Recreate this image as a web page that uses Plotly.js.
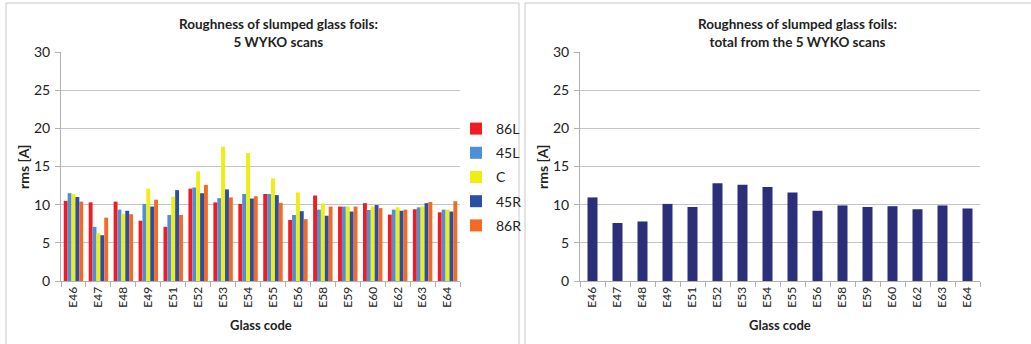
<!DOCTYPE html>
<html>
<head>
<meta charset="utf-8">
<script src="https://cdn.plot.ly/plotly-3.0.1.min.js"></script>
<style>
html,body{margin:0;padding:0;background:#fff;}
#chart{width:1031px;height:344px;}
</style>
</head>
<body>
<div id="chart"></div>
<script>
const codes = ["E46","E47","E48","E49","E51","E52","E53","E54","E55","E56","E58","E59","E60","E62","E63","E64"];
const s86L = [10.5, 10.3, 10.4, 7.9, 7.1, 12.1, 10.3, 10.1, 11.4, 8.0, 11.2, 9.75, 10.2, 8.7, 9.4, 9.0];
const s45L = [11.5, 7.1, 9.35, 10.1, 8.65, 12.25, 10.85, 11.4, 11.4, 8.65, 9.35, 9.75, 9.3, 9.35, 9.65, 9.35];
const sC   = [11.4, 6.25, 8.8, 12.1, 11.05, 14.35, 17.6, 16.75, 13.45, 11.6, 10.15, 9.75, 9.75, 9.65, 9.75, 9.35];
const s45R = [11.0, 6.0, 9.2, 9.75, 11.9, 11.5, 12.0, 10.8, 11.25, 9.15, 8.55, 9.1, 9.95, 9.2, 10.2, 9.1];
const s86R = [10.4, 8.3, 8.75, 10.65, 8.65, 12.6, 10.95, 11.1, 10.25, 8.1, 9.75, 9.75, 9.55, 9.35, 10.35, 10.45];
const total = [10.95, 7.6, 7.8, 10.1, 9.7, 12.8, 12.6, 12.3, 11.6, 9.2, 9.9, 9.7, 9.8, 9.4, 9.9, 9.5];

const seriesNames = ["86L","45L","C","45R","86R"];
const seriesVals = [s86L, s45L, sC, s45R, s86R];
const seriesColors = ["#ee1d23", "#4f8fd8", "#eeee10", "#2b4ea6", "#f26a25"];

const FONT = "Lato, 'Open Sans', sans-serif";
const traces = seriesNames.map((n,i)=>({
  type:"bar", x:codes, y:seriesVals[i], name:n,
  marker:{color:seriesColors[i]}, xaxis:"x", yaxis:"y",
  legendgroup:n
}));
traces.push({type:"bar", x:codes, y:total, name:"total", showlegend:false,
  marker:{color:"#2b2f7a"}, xaxis:"x2", yaxis:"y2", width:0.4});

const W=1031, H=344;
const px = v=>v/W, py = v=>1-v/H;
const gridC = "#c4c4c4";
function xax(dom){
  return {domain:dom, type:"category", tickson:"boundaries", ticks:"outside", ticklen:5,
    tickcolor:"#b0b0b0", showline:true, linecolor:"#b0b0b0", showgrid:false, tickangle:-90,
    tickfont:{family:FONT, size:12, color:"#222"}, fixedrange:true, zeroline:false};
}
function yax(anchor){
  return {domain:[py(281), py(52)], range:[0,30], dtick:5, anchor:anchor, ticks:"outside", ticklen:5,
    tickcolor:"#b0b0b0", showline:true, linecolor:"#b0b0b0", gridcolor:gridC, gridwidth:1,
    zeroline:false, tickfont:{family:FONT, size:14, color:"#222"}, ticklabelstandoff:2};
}
const borderC = "#c8c8c8";
const shapes = [
  {type:"line", xref:"paper", yref:"paper", x0:px(6), x1:px(6), y0:py(3), y1:0, line:{color:borderC,width:1}},
  {type:"line", xref:"paper", yref:"paper", x0:px(6), x1:px(519), y0:py(3), y1:py(3), line:{color:borderC,width:1}},
  {type:"line", xref:"paper", yref:"paper", x0:px(519), x1:px(519), y0:py(3), y1:0, line:{color:borderC,width:1}},
  {type:"line", xref:"paper", yref:"paper", x0:px(525), x1:px(525), y0:py(3), y1:0, line:{color:borderC,width:1}},
  {type:"line", xref:"paper", yref:"paper", x0:px(525), x1:1, y0:py(3), y1:py(3), line:{color:borderC,width:1}}
];
const ann = (text,x,y,opts)=>Object.assign({text:text, xref:"paper", yref:"paper", x:px(x), y:py(y),
  showarrow:false, xanchor:"center", yanchor:"middle", font:{family:FONT, size:12, color:"#222"}}, opts||{});
const annotations = [
  ann("<b>Roughness of slumped glass foils:</b><br><b>5 WYKO scans</b>", 278, 33, {font:{family:FONT,size:13.5,color:"#222"}}),
  ann("<b>Roughness of slumped glass foils:</b><br><b>total from the 5 WYKO scans</b>", 797, 33, {font:{family:FONT,size:13.5,color:"#222"}}),
  ann("<b>rms [A]</b>", 23, 167, {textangle:-90, font:{family:FONT,size:14,color:"#222"}}),
  ann("<b>rms [A]</b>", 542, 167, {textangle:-90, font:{family:FONT,size:14,color:"#222"}}),
  ann("<b>Glass code</b>", 261, 325, {font:{family:FONT,size:13,color:"#222"}}),
  ann("<b>Glass code</b>", 780, 325, {font:{family:FONT,size:13,color:"#222"}})
];
const layout = {
  width:W, height:H, margin:{l:0,r:0,t:0,b:0}, paper_bgcolor:"#fff", plot_bgcolor:"#fff",
  barmode:"group", bargap:0.22, bargroupgap:0,
  xaxis: Object.assign(xax([px(61), px(460)]), {anchor:"y"}),
  yaxis: yax("x"),
  xaxis2: Object.assign(xax([px(580), px(980)]), {anchor:"y2"}),
  yaxis2: yax("x2"),
  showlegend:true,
  legend:{x:px(456), y:py(113), xanchor:"left", yanchor:"top", font:{family:FONT, size:14, color:"#222"},
    tracegroupgap:3, itemwidth:30, bgcolor:"rgba(0,0,0,0)"},
  shapes:shapes, annotations:annotations
};
Plotly.newPlot("chart", traces, layout, {staticPlot:true, displayModeBar:false});
</script>
</body>
</html>
